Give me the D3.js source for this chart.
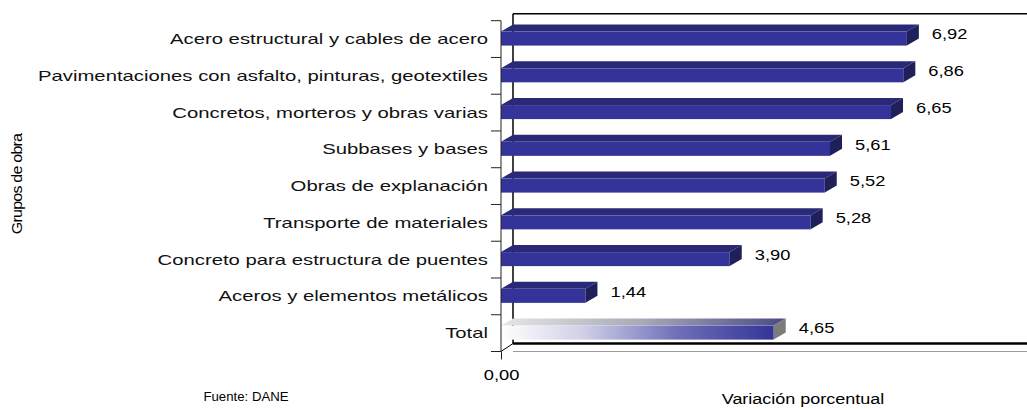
<!DOCTYPE html>
<html>
<head>
<meta charset="utf-8">
<script src="https://cdn.jsdelivr.net/npm/d3@7"></script>
<style>
  body { margin: 0; background: #fff; }
  svg { display: block; font-family: "Liberation Sans", Arial, sans-serif; }
</style>
</head>
<body>
<svg id="chart"></svg>
<script>
// data
var categories = [
  "Acero estructural y cables de acero",
  "Pavimentaciones con asfalto, pinturas, geotextiles",
  "Concretos, morteros y obras varias",
  "Subbases y bases",
  "Obras de explanación",
  "Transporte de materiales",
  "Concreto para estructura de puentes",
  "Aceros y elementos metálicos",
  "Total"
];
var values = [6.92, 6.86, 6.65, 5.61, 5.52, 5.28, 3.90, 1.44, 4.65];
var xTicks = [0];
var totalLabel = "Total";

var width = 1027, height = 409;
var depthX = 12, depthY = 7;   // 3d offset of the bars

var svg = d3.select("#chart")
    .attr("width", width)
    .attr("height", height);

var locale = d3.formatLocale({decimal: ",", thousands: ".", grouping: [3], currency: ["", ""]});
var fmt = locale.format(".2f");

var x = d3.scaleLinear()
    .domain([0, 9])
    .range([501, 501 + 9 * 58.65]);

var y = d3.scaleBand()
    .domain(categories)
    .range([20.7, 351.5]);

var x0 = x(0);
var yTop = y.range()[0], yBot = y.range()[1];

// gradients for the total bar
var defs = svg.append("defs");
var gFront = defs.append("linearGradient").attr("id", "totFront");
gFront.append("stop").attr("offset", "0%").attr("stop-color", "#ffffff");
gFront.append("stop").attr("offset", "30%").attr("stop-color", "#d0d0e8");
gFront.append("stop").attr("offset", "65%").attr("stop-color", "#6e6eb8");
gFront.append("stop").attr("offset", "100%").attr("stop-color", "#34349a");
var gTopF = defs.append("linearGradient").attr("id", "totTop");
gTopF.append("stop").attr("offset", "0%").attr("stop-color", "#e6e6e6");
gTopF.append("stop").attr("offset", "50%").attr("stop-color", "#a8a8b8");
gTopF.append("stop").attr("offset", "100%").attr("stop-color", "#4a4a86");

// back wall + floor
svg.append("line")
    .attr("x1", x0 + depthX).attr("x2", x0 + depthX)
    .attr("y1", yTop - depthY).attr("y2", yBot - depthY - 1)
    .attr("stroke", "#000").attr("stroke-width", 1.5);
svg.append("line")
    .attr("x1", x0 + depthX).attr("x2", width)
    .attr("y1", yTop - depthY).attr("y2", yTop - depthY)
    .attr("stroke", "#000").attr("stroke-width", 1.5);
svg.append("line")
    .attr("x1", x0 + depthX).attr("x2", width)
    .attr("y1", yBot - depthY - 1).attr("y2", yBot - depthY - 1)
    .attr("stroke", "#000").attr("stroke-width", 2.5);
svg.append("line")
    .attr("x1", x0 + depthX).attr("x2", width)
    .attr("y1", yBot).attr("y2", yBot)
    .attr("stroke", "#9a9a9a").attr("stroke-width", 1);
svg.append("line")
    .attr("x1", x0).attr("x2", x0 + depthX)
    .attr("y1", yBot).attr("y2", yBot - depthY - 1)
    .attr("stroke", "#000").attr("stroke-width", 1);

// bars
var bars = svg.append("g").selectAll("g.bar")
    .data(categories.map(function(c, i) { return {name: c, value: values[i]}; }))
  .enter().append("g")
    .attr("class", "bar");

function cy(d) { return y(d.name) + y.bandwidth() / 2; }

bars.append("path")
    .attr("d", function(d) {
      var c = cy(d), xe = x(d.value);
      return "M" + x0 + "," + (c - 7.5) +
        "L" + (x0 + depthX) + "," + (c - 7.5 - depthY) +
        "L" + (xe + depthX) + "," + (c - 7.5 - depthY) +
        "L" + xe + "," + (c - 7.5) + "Z";
    })
    .attr("fill", function(d) { return d.name === totalLabel ? "url(#totTop)" : "#292977"; });

bars.append("rect")
    .attr("x", x0)
    .attr("y", function(d) { return cy(d) - 7.5; })
    .attr("width", function(d) { return x(d.value) - x0; })
    .attr("height", 14)
    .attr("fill", function(d) { return d.name === totalLabel ? "url(#totFront)" : "#333399"; });

bars.append("path")
    .attr("d", function(d) {
      var c = cy(d), xe = x(d.value);
      return "M" + xe + "," + (c - 7.5) +
        "L" + (xe + depthX) + "," + (c - 7.5 - depthY) +
        "L" + (xe + depthX) + "," + (c + 6.5 - depthY) +
        "L" + xe + "," + (c + 6.5) + "Z";
    })
    .attr("fill", function(d) { return d.name === totalLabel ? "#7c7c7c" : "#1f1f5a"; });

// value labels
bars.append("text")
    .attr("transform", function(d) { return "translate(" + (x(d.value) + 25) + "," + (cy(d) - 5) + ") scale(1.22,1)"; })
    .attr("dy", "0.35em")
    .attr("font-size", 15)
    .attr("fill", "#000")
    .text(function(d) { return fmt(d.value); });

// category axis
var yAxis = svg.append("g")
    .attr("transform", "translate(" + x0 + ",0)")
    .call(d3.axisLeft(y).tickSize(0).tickPadding(0));
yAxis.select(".domain").remove();
yAxis.selectAll(".tick text")
    .attr("x", 0)
    .attr("dy", "0.35em")
    .attr("transform", "translate(-13,0) scale(1.42,1)")
    .attr("font-size", 14.3)
    .attr("font-family", "'Liberation Sans', Arial, sans-serif")
    .attr("fill", "#111");

svg.append("line")
    .attr("x1", x0).attr("x2", x0)
    .attr("y1", yTop).attr("y2", yBot)
    .attr("stroke", "#222").attr("stroke-width", 1);

var bounds = categories.map(function(c) { return y(c); }).concat([yBot]);
svg.append("g").selectAll("line")
    .data(bounds)
  .enter().append("line")
    .attr("x1", x0 - 10).attr("x2", x0)
    .attr("y1", function(d) { return d; })
    .attr("y2", function(d) { return d; })
    .attr("stroke", "#222").attr("stroke-width", 1);

// value axis
var xAxis = svg.append("g")
    .attr("transform", "translate(0," + yBot + ")")
    .call(d3.axisBottom(x).tickValues(xTicks).tickFormat(fmt).tickSize(8).tickPadding(6));
xAxis.select(".domain").remove();
xAxis.selectAll(".tick line").attr("stroke", "#222");
xAxis.selectAll(".tick text")
    .attr("y", 0)
    .attr("dy", "0.35em")
    .attr("transform", "translate(0,23) scale(1.22,1)")
    .attr("font-size", 15)
    .attr("font-family", "'Liberation Sans', Arial, sans-serif")
    .attr("fill", "#000");

// titles
svg.append("text")
    .attr("transform", "translate(803,404) scale(1.2,1)")
    .attr("text-anchor", "middle")
    .attr("font-size", 15)
    .text("Variación porcentual");

svg.append("text")
    .attr("transform", "translate(246,401) scale(1.1,1)")
    .attr("text-anchor", "middle")
    .attr("font-size", 12)
    .text("Fuente: DANE");

svg.append("text")
    .attr("transform", "translate(22,184) rotate(-90) scale(1.15,1)")
    .attr("text-anchor", "middle")
    .attr("font-size", 14)
    .attr("letter-spacing", -0.7)
    .text("Grupos de obra");
</script>
</body>
</html>
